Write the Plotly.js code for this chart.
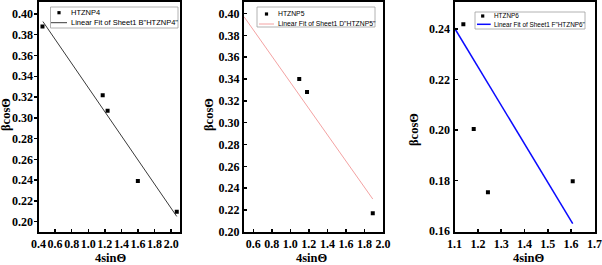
<!DOCTYPE html>
<html>
<head>
<meta charset="utf-8">
<script src="https://cdn.plot.ly/plotly-3.0.1.min.js"></script>
<style>html,body{margin:0;padding:0;background:#fff;}#chart{width:602px;height:265px;}</style>
</head>
<body>
<div id="chart"></div>
<script>
// ---- data ----
const p4X = [0.448, 1.174, 1.233, 1.598, 2.067];
const p4Y = [0.388, 0.3217, 0.3068, 0.239, 0.2095];
const fit4X = [0.453, 2.067];
const fit4Y = [0.3927, 0.205];

const p5X = [1.096, 1.18, 1.89];
const p5Y = [0.340, 0.328, 0.217];
const fit5X = [0.5, 1.89];
const fit5Y = [0.397, 0.230];

const p6X = [1.1375, 1.182, 1.243, 1.607];
const p6Y = [0.242, 0.2004, 0.1754, 0.1797];
const fit6X = [1.1, 1.607];
const fit6Y = [0.2404, 0.1629];

const seriesNames = ["HTZNP4", "HTZNP5", "HTZNP6"];
const fitNames = ['Linear Fit of Sheet1 B"HTZNP4"', 'Linear Fit of Sheet1 D"HTZNP5"', 'Linear Fit of Sheet1 F"HTZNP6"'];
const xTitle = "4sinΘ";
const yTitle = "βcosΘ";

const x1Ticks = [0.4, 0.6, 0.8, 1.0, 1.2, 1.4, 1.6, 1.8, 2.0];
const x2Ticks = [0.6, 0.8, 1.0, 1.2, 1.4, 1.6, 1.8, 2.0];
const x3Ticks = [1.1, 1.2, 1.3, 1.4, 1.5, 1.6, 1.7];
const y1Ticks = [0.20, 0.22, 0.24, 0.26, 0.28, 0.30, 0.32, 0.34, 0.36, 0.38, 0.40];
const y2Ticks = [0.20, 0.22, 0.24, 0.26, 0.28, 0.30, 0.32, 0.34, 0.36, 0.38, 0.40];
const y3Ticks = [0.16, 0.18, 0.20, 0.22, 0.24];

// ---- layout helpers ----
const W = 602, H = 265;
const px = v => v / W;
const py = v => 1 - v / H;
const serif = "Liberation Serif";
const sans = "Liberation Sans";
const tickFont = {family: serif, size: 12, weight: 700, color: '#000'};

function mkX(dom, range, ticks, dec) {
  return {
    domain: [px(dom[0]), px(dom[1])], range: range,
    tickmode: 'array', tickvals: ticks, ticktext: ticks.map(t => t.toFixed(dec)),
    ticks: 'inside', ticklen: 3, tickwidth: 1.5, tickcolor: '#000', tickangle: 0,
    showline: true, mirror: true, linewidth: 2, linecolor: '#000',
    showgrid: false, zeroline: false, ticklabeloverflow: 'allow',
    tickfont: tickFont
  };
}
function mkY(dom, range, ticks, tickdir, standoff) {
  return {
    domain: [py(dom[1]), py(dom[0])], range: range,
    tickmode: 'array', tickvals: ticks, ticktext: ticks.map(t => t.toFixed(2)),
    ticks: tickdir, ticklen: 3, tickwidth: 1.5, tickcolor: '#000', tickangle: 0,
    ticklabelstandoff: standoff,
    showline: true, mirror: true, linewidth: 2, linecolor: '#000',
    showgrid: false, zeroline: false, ticklabeloverflow: 'allow',
    tickfont: tickFont
  };
}

const mk = (x, y, xa, ya, name) => ({x: x, y: y, xaxis: xa, yaxis: ya, name: name, type: 'scatter', mode: 'markers',
  marker: {symbol: 'square', size: 4, color: '#000'}, showlegend: false, cliponaxis: true});
const ln = (x, y, xa, ya, name, color, w) => ({x: x, y: y, xaxis: xa, yaxis: ya, name: name, type: 'scatter', mode: 'lines',
  line: {color: color, width: w}, showlegend: false});

const data = [
  ln(fit4X, fit4Y, 'x', 'y', fitNames[0], '#3a3a3a', 1),
  mk(p4X, p4Y, 'x', 'y', seriesNames[0]),
  ln(fit5X, fit5Y, 'x2', 'y2', fitNames[1], '#f08a8a', 0.8),
  mk(p5X, p5Y, 'x2', 'y2', seriesNames[1]),
  ln(fit6X, fit6Y, 'x3', 'y3', fitNames[2], '#0a0aff', 1.5),
  mk(p6X, p6Y, 'x3', 'y3', seriesNames[2])
];

// manual legends (box, samples, texts)
const shapes = [];
const annotations = [];
function legend(box, symX, row1, lineX, row2, textX, fs, name, fitName, color, lw) {
  shapes.push({type: 'rect', xref: 'paper', yref: 'paper', x0: px(box[0]), x1: px(box[2]), y0: py(box[3]), y1: py(box[1]),
    line: {color: '#a0a0a0', width: 0.8}, fillcolor: '#fff', layer: 'above'});
  shapes.push({type: 'rect', xref: 'paper', yref: 'paper', x0: px(symX - 1.6), x1: px(symX + 1.6), y0: py(row1 + 1.6), y1: py(row1 - 1.6),
    line: {width: 0}, fillcolor: '#000', layer: 'above'});
  shapes.push({type: 'line', xref: 'paper', yref: 'paper', x0: px(lineX[0]), x1: px(lineX[1]), y0: py(row2), y1: py(row2),
    line: {color: color, width: lw}, layer: 'above'});
  const f = {family: sans, size: fs, weight: 400, color: '#000'};
  annotations.push({xref: 'paper', yref: 'paper', x: px(textX), y: py(row1), xanchor: 'left', yanchor: 'middle', showarrow: false,
    text: name, font: f});
  annotations.push({xref: 'paper', yref: 'paper', x: px(textX), y: py(row2), xanchor: 'left', yanchor: 'middle', showarrow: false,
    text: fitName, font: f});
}
legend([50.5, 7, 178, 28], 59, 12.7, [51, 67], 22.7, 68.5, 7.5, seriesNames[0], fitNames[0], '#3a3a3a', 1);
legend([257, 7, 375, 27], 266.5, 14, [259, 274], 24, 275.5, 6.8, seriesNames[1], fitNames[1], '#f08a8a', 0.8);
legend([475, 12, 585, 29], 482.7, 16, [477, 490.7], 24.3, 492, 6.4, seriesNames[2], fitNames[2], '#0a0aff', 1.5);

// axis titles
const titleFont = {family: serif, size: 12.5, weight: 700, color: '#000'};
const yT = [[6, 115], [209, 115], [414, 130]];
const xT = [[111, 257.5], [312, 257.5], [529, 257.5]];
yT.forEach(p => annotations.push({xref: 'paper', yref: 'paper', x: px(p[0]), y: py(p[1]), xanchor: 'center', yanchor: 'middle',
  showarrow: false, textangle: -90, text: yTitle, font: titleFont}));
xT.forEach(p => annotations.push({xref: 'paper', yref: 'paper', x: px(p[0]), y: py(p[1]), xanchor: 'center', yanchor: 'middle',
  showarrow: false, text: xTitle, font: titleFont}));

const layout = {
  width: W, height: H, margin: {l: 0, r: 0, t: 0, b: 0},
  font: {family: serif, size: 12, weight: 700, color: '#000'},
  paper_bgcolor: '#fff', plot_bgcolor: '#fff', showlegend: false,
  xaxis: mkX([38.5, 179.5], [0.4, 2.1], x1Ticks, 1),
  yaxis: mkY([1.5, 232], [0.19, 0.412], y1Ticks, 'outside', -2),
  xaxis2: mkX([244, 383], [0.4995, 2.0005], x2Ticks, 1),
  yaxis2: mkY([1.5, 232], [0.1998, 0.411], y2Ticks, 'inside', 0),
  xaxis3: mkX([454.5, 594.5], [1.0995, 1.7005], x3Ticks, 1),
  yaxis3: mkY([1.5, 231.5], [0.1598, 0.251], y3Ticks, 'inside', 0),
  shapes: shapes, annotations: annotations
};
layout.yaxis2.anchor = 'x2'; layout.xaxis2.anchor = 'y2';
layout.yaxis3.anchor = 'x3'; layout.xaxis3.anchor = 'y3';
layout.xaxis.anchor = 'y'; layout.yaxis.anchor = 'x';

Plotly.newPlot('chart', data, layout, {staticPlot: true, displayModeBar: false});
</script>
</body>
</html>
